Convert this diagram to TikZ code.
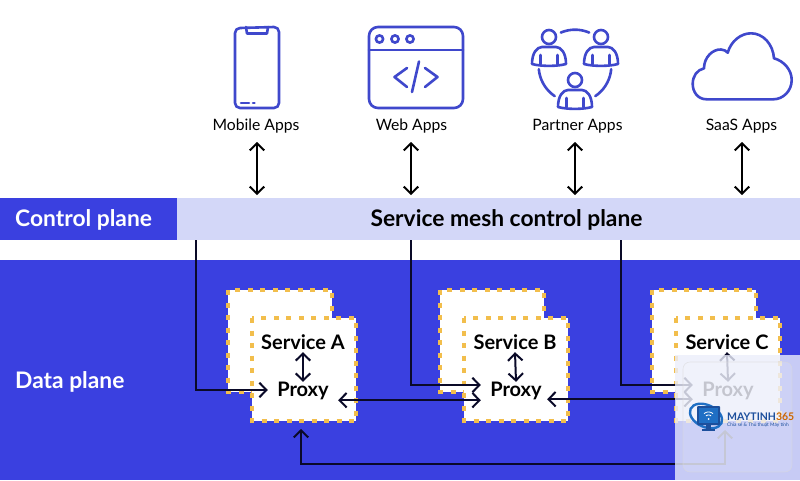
\documentclass[tikz,border=0pt]{standalone}
\usepackage{fontspec}
\setmainfont{Lato}
\usetikzlibrary{arrows.meta}
\definecolor{brandblue}{HTML}{3A40E0}
\definecolor{iconblue}{HTML}{3F48CC}
\definecolor{lav}{HTML}{D3D7F8}
\definecolor{dashcol}{HTML}{F2BE4C}
\definecolor{ink}{HTML}{0A0A28}
\definecolor{veil}{HTML}{EBEEFB}
\definecolor{logoblue}{HTML}{1F6FC4}
\definecolor{logodark}{HTML}{1C4F9C}
\tikzset{
  barb/.tip={Straight Barb[length=7pt,width=14.5pt,line width=2pt]},
  iconline/.style={draw=iconblue,line width=2.6pt,line cap=round,line join=round},
  biarrow/.style={draw=black,line width=2pt,barb-barb},
  link/.style={draw=ink,line width=2pt,-barb},
  peer/.style={draw=ink,line width=2pt,barb-barb},
  svcbox/.style={fill=white,draw=dashcol,line width=3.8pt,dash pattern=on 5pt off 7.5pt},
  applabel/.style={font=\fontsize{15.7}{18}\selectfont,text=black,inner sep=0pt},
  svclabel/.style={font=\fontsize{20}{22}\selectfont\bfseries,text=black,inner sep=0pt,minimum height=20pt},
  proxylabel/.style={font=\fontsize{20}{22}\selectfont\bfseries,text=black,inner sep=0pt,minimum width=70pt,minimum height=18pt},
  planelabel/.style={font=\fontsize{22.8}{26}\selectfont\bfseries,inner sep=0pt},
}
\newcommand{\personicon}[2]{%
  \draw[iconline] (#1,#2) circle[radius=7pt];
  \draw[iconline] (#1-17,#2+27)
    .. controls (#1-17,#2+16) and (#1-12,#2+10) .. (#1-7,#2+10)
    -- (#1+7,#2+10)
    .. controls (#1+12,#2+10) and (#1+17,#2+16) .. (#1+17,#2+27)
    .. controls (#1+8,#2+29.5) and (#1-8,#2+29.5) .. cycle;
  \draw[iconline] (#1-8.5,#2+18) -- (#1-8.5,#2+27);
  \draw[iconline] (#1+8.5,#2+18) -- (#1+8.5,#2+27);
}
\begin{document}
\begin{tikzpicture}[x=1pt,y=-1pt]
\useasboundingbox (0,0) rectangle (800,480);
\fill[white] (0,0) rectangle (800,480);
% bands
\fill[brandblue] (0,198) rectangle (177,240);
\fill[lav] (177,198) rectangle (800,240);
\fill[brandblue] (0,260) rectangle (800,480);
\node[planelabel,text=white,anchor=west] (cplabel) at (15,220) {Control plane};
\node[planelabel,text=black] (smcp) at (506.5,220) {Service mesh control plane};
\node[planelabel,text=white,anchor=west] (dplabel) at (15,381.5) {Data plane};
% phone
\draw[iconline] (235,33) arc[start angle=180,end angle=90,radius=5pt] -- (274,27) arc[start angle=90,end angle=0,radius=5pt] -- (279,103) arc[start angle=0,end angle=-90,radius=5pt] -- (240,108) arc[start angle=-90,end angle=-180,radius=5pt] -- cycle;
\draw[iconline] (246,27) -- (247,33.5) -- (267,33.5) -- (268,27);
\draw[iconline] (241,103) -- (249,103);
\draw[iconline] (253,103) -- (254.5,103);
% browser
\draw[iconline] (369,36) arc[start angle=180,end angle=90,radius=9pt] -- (454,27) arc[start angle=90,end angle=0,radius=9pt] -- (463,99) arc[start angle=0,end angle=-90,radius=9pt] -- (378,108) arc[start angle=-90,end angle=-180,radius=9pt] -- cycle;
\draw[iconline] (369,50) -- (463,50);
\draw[iconline] (379.5,39) circle[radius=3.6pt];
\draw[iconline] (395,39) circle[radius=3.6pt];
\draw[iconline] (410,39) circle[radius=3.6pt];
\draw[iconline] (407,68) -- (394.5,77) -- (407,87);
\draw[iconline] (419,61.5) -- (412,92);
\draw[iconline] (425,68) -- (437.5,77) -- (425,87);
% partner
\personicon{549}{37}
\personicon{601}{37}
\personicon{575}{80}
\draw[iconline] plot[domain=-113:-67,samples=15,smooth] ({575+36.3*cos(\x)},{66+36.3*sin(\x)});
\draw[iconline] plot[domain=124:175,samples=15,smooth] ({575+36.3*cos(\x)},{66+36.3*sin(\x)});
\draw[iconline] plot[domain=5:56,samples=15,smooth] ({575+36.3*cos(\x)},{66+36.3*sin(\x)});
% cloud
\draw[iconline] (706.7,99.3) .. controls (697,99.3) and (692.7,91) .. (692.7,84)
  .. controls (692.7,76) and (697,70) .. (704,68.3)
  .. controls (704,57) and (713,49) .. (721,49.5)
  .. controls (724,49.5) and (726,51) .. (727.7,52.7)
  .. controls (731,41) and (741,33.3) .. (751,33.3)
  .. controls (763,33.3) and (773,44) .. (774,58.3)
  .. controls (784,61) and (791.7,70) .. (791.7,80)
  .. controls (791.7,91) and (783,99.3) .. (773.3,99.3) -- cycle;
% app labels
\node[applabel] (mobile) at (256,126.5) {Mobile Apps};
\node[applabel] (web) at (411.5,126.5) {Web Apps};
\node[applabel] (partner) at (577.5,126.5) {Partner Apps};
\node[applabel] (saas) at (741.5,126.5) {SaaS Apps};
\coordinate (mt) at (257,142); \coordinate (mb) at (257,195);
\coordinate (wt) at (411,142); \coordinate (wb) at (411,195);
\coordinate (pt) at (575,142); \coordinate (pb) at (575,195);
\coordinate (st) at (742,142); \coordinate (sb) at (742,195);
\draw[biarrow] (mt) -- (mb);
\draw[biarrow] (wt) -- (wb);
\draw[biarrow] (pt) -- (pb);
\draw[biarrow] (st) -- (sb);
% service boxes
\path[svcbox] (228,290) rectangle (332,392);
\path[svcbox] (252,318) rectangle (356,421);
\path[svcbox] (440,290) rectangle (544,392);
\path[svcbox] (464,318) rectangle (568,421);
\path[svcbox] (652,290) rectangle (756,392);
\path[svcbox] (676,318) rectangle (780,421);
\node[svclabel] (svcA) at (303,342) {Service A};
\node[proxylabel] (prA) at (303,391) {\raisebox{-1.5pt}{Proxy}};
\node[svclabel] (svcB) at (515,342) {Service B};
\node[proxylabel] (prB) at (516,391) {\raisebox{-1.5pt}{Proxy}};
\node[svclabel] (svcC) at (727,342) {Service C};
\node[proxylabel] (prC) at (728,391) {\raisebox{-1.5pt}{Proxy}};
\draw[peer] (svcA.south) -- (prA.north);
\draw[peer] (svcB.south) -- (prB.north);
\draw[peer] (svcC.south) -- (prC.north);
% control links
\coordinate (ca) at (196,240);
\coordinate (cb) at (411,240);
\coordinate (cc) at (621,240);
\draw[link] (ca) |- ([yshift=1pt]prA.west);
\draw[link] (cb) |- ([yshift=6pt]prB.west);
\draw[link] (cc) |- ([yshift=6pt]prC.west);
% peer links
\draw[peer] (prA.south east) -- (prB.south west);
\draw[peer] ([xshift=-4pt,yshift=1pt]prB.south east) -- ([yshift=1pt]prC.south west);
\coordinate (ba) at (301,429);
\coordinate (bm) at (500,464);
\coordinate (bc) at (725,430);
\draw[peer] (ba) |- (bm) -| (bc);
% watermark
\fill[veil,opacity=.8] (675,355) rectangle (800,480);
\fill[white,opacity=.12,rounded corners=7pt] (683,362) rectangle (792,472);
\draw[draw=black!15,opacity=.6,line width=.6pt,rounded corners=7pt] (683,362) rectangle (792,472);
% logo
\draw[logoblue,line width=2.4pt,rotate around={-25:(706,416)}] (706,416) ellipse[x radius=17pt,y radius=11pt];
\fill[logodark,rounded corners=1pt] (697,406) rectangle (720,425);
\fill[logoblue] (699,408) rectangle (718,423);
\draw[white,line width=.8pt] plot[domain=-130:-50,samples=9,smooth] ({708.5+7*cos(\x)},{419+7*sin(\x)});
\draw[white,line width=.8pt] plot[domain=-130:-50,samples=9,smooth] ({708.5+4*cos(\x)},{419+4*sin(\x)});
\fill[white] (708.5,419) circle[radius=1pt];
\fill[logodark] (706,425) rectangle (711,429);
\fill[logodark] (702,429) rectangle (715,431);
\node[font=\fontsize{10.5}{11}\selectfont\bfseries,text=logodark,inner sep=0pt,anchor=west] (wm) at (727,417) {MAYTINH\textcolor{orange!80!black}{365}};
\node[font=\fontsize{4.8}{5}\selectfont,text=logodark,inner sep=0pt,anchor=west] (wmsub) at (727,425) {Chia sẻ \& Thủ thuật Máy tính};
\end{tikzpicture}
\end{document}
